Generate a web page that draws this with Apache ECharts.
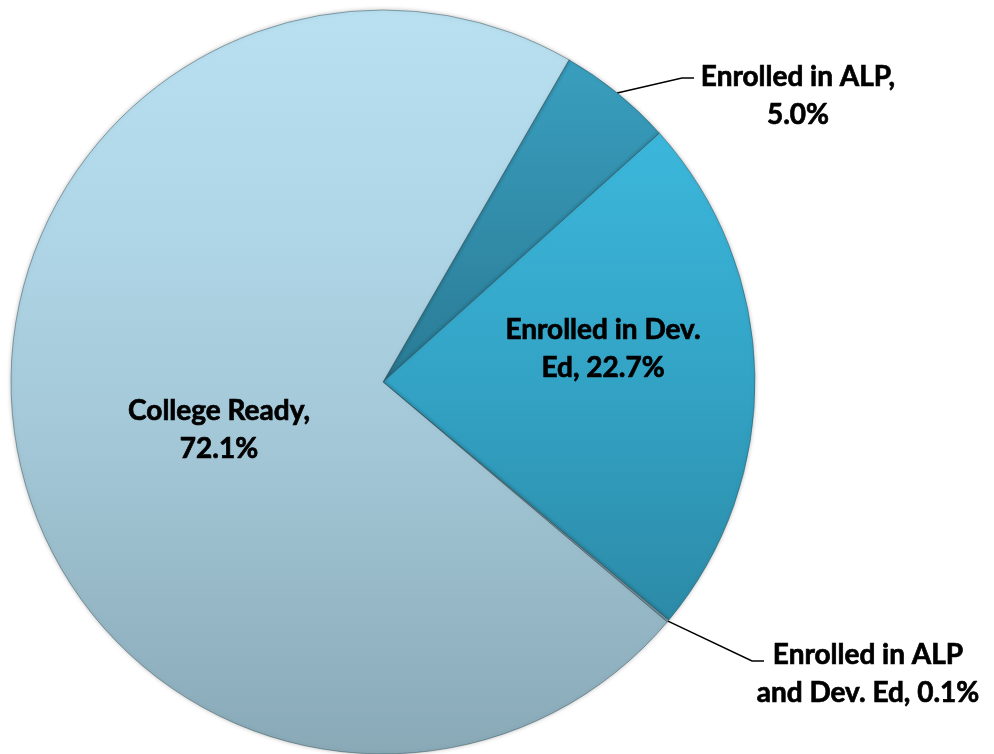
<!DOCTYPE html>
<html><head><meta charset="utf-8">
<script src="https://cdn.jsdelivr.net/npm/echarts@6/dist/echarts.min.js"></script>
<style>html,body{margin:0;padding:0;background:#fff}#c{width:994px;height:754px}</style>
</head><body><div id="c"></div>
<script>
// Data
const categories = ['Enrolled in ALP', 'Enrolled in Dev.\nEd', 'Enrolled in ALP\nand Dev. Ed', 'College Ready'];
const values = [5.0, 22.7, 0.1, 72.1];

function grad(stops) {
  return { type: 'linear', x: 0, y: 9, x2: 0, y2: 755, global: true,
    colorStops: stops.map(s => ({ offset: s[0], color: s[1] })) };
}
const sliceColors = [
  grad([[0.05, '#3aa0c0'], [0.5, '#2a7b95'], [1, '#236a80']]),
  grad([[0.1, '#3dbbe0'], [0.5, '#33a3c5'], [0.85, '#2b88a4']]),
  grad([[0, '#7f9ba7'], [1, '#7f9ba7']]),
  grad([[0, '#b9e0f0'], [0.3, '#afd6e7'], [0.6, '#a2c6d5'], [1, '#89a9b7']])
];
const insideIdx = [1, 3];

// label placement (screen px)
const labelPlace = {
  0: { x: 798, y: 96, line: [[682, 78], [694, 78]] },
  1: { x: 603, y: 349 },
  2: { x: 868, y: 674, line: [[752, 661], [764, 661]] },
  3: { x: 219, y: 430 }
};

const chart = echarts.init(document.getElementById('c'), null, { renderer: 'canvas' });
chart.setOption({
  backgroundColor: '#ffffff',
  animation: false,
  series: [{
    type: 'pie',
    center: [383, 382],
    radius: [0, 372],
    startAngle: 60,
    clockwise: true,
    avoidLabelOverlap: false,
    itemStyle: { borderColor: 'rgba(40,70,80,0.45)', borderWidth: 1, shadowColor: 'rgba(0,0,0,0.25)', shadowBlur: 4 },
    label: {
      show: true,
      position: 'outside',
      color: '#000',
      fontFamily: 'Lato',
      fontWeight: 'bold',
      fontSize: 28,
      lineHeight: 38,
      align: 'center',
      textBorderColor: '#000',
      textBorderWidth: 0.7,
      formatter: function (p) {
        const sep = p.name.indexOf('\n') >= 0 ? ', ' : ',\n';
        return p.name + sep + p.value.toFixed(1) + '%';
      }
    },
    labelLine: { show: true, length: 30, length2: 20, smooth: false, lineStyle: { color: '#000', width: 1.5 } },
    labelLayout: function (p) {
      const L = labelPlace[p.dataIndex];
      const out = { x: L.x, y: L.y, align: 'center', verticalAlign: 'middle' };
      if (L.line && p.labelLinePoints && p.labelLinePoints[0]) {
        out.labelLinePoints = [p.labelLinePoints[0], L.line[0], L.line[1]];
      }
      return out;
    },
    data: categories.map((name, i) => {
      const d = { name: name, value: values[i], itemStyle: { color: sliceColors[i] } };
      if (insideIdx.indexOf(i) >= 0) {
        d.label = { position: 'inside' };
        d.labelLine = { show: false };
      }
      return d;
    })
  }]
});
</script></body></html>
